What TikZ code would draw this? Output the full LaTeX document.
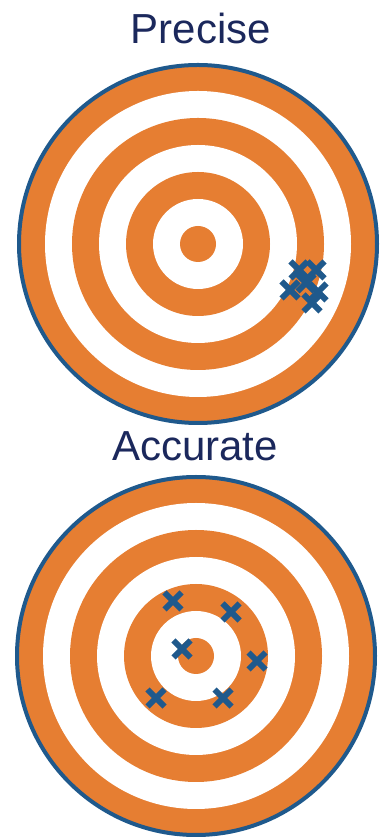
\documentclass[tikz,border=0pt]{standalone}
\usepackage{fontspec}
\setmainfont{Liberation Sans}
\usetikzlibrary{positioning}
\definecolor{tgorange}{RGB}{230,126,50}
\definecolor{tgblue}{RGB}{31,89,140}
\definecolor{tgnavy}{RGB}{27,40,92}

\begin{document}
\begin{tikzpicture}[x=1pt, y=1pt,
    hit/.style={draw=tgblue, line width=6pt},
    title/.style={text=tgnavy, font=\fontsize{42}{50}\selectfont, anchor=base, inner sep=0pt}]
    \useasboundingbox (0,0) rectangle (388,837);
    \coordinate (top) at (198,593);
    \coordinate (bot) at (196,181);

    % Bia trên
    \filldraw[fill=tgorange, draw=tgblue, line width=4pt] (top) circle (179);
    \foreach \r/\c in {153/white,126/tgorange,99/white,72/tgorange,45/white,18/tgorange} {
        \fill[\c] (top) circle (\r);
    }
    % Bia dưới
    \filldraw[fill=tgorange, draw=tgblue, line width=4pt] (bot) circle (179);
    \foreach \r/\c in {153/white,126/tgorange,99/white,72/tgorange,45/white,18/tgorange} {
        \fill[\c] (bot) circle (\r);
    }

    % Tiêu đề
    \node[title] (precise) at (201,793.7) {Precise};
    \node[title] (accurate) at (195,376.3) {Accurate};

    % Các phát bắn
    \foreach \x/\y in {299/567,316/567,290/547,306/554,318/545,312/534} {
        \draw[hit, shift={(\x,\y)}] (-8.5,-8.5) -- (8.5,8.5) (-8.5,8.5) -- (8.5,-8.5);
    }
    \foreach \x/\y in {173/236,231/225,182/188,257/176,156/139,223/139} {
        \draw[hit, shift={(\x,\y)}] (-8.5,-8.5) -- (8.5,8.5) (-8.5,8.5) -- (8.5,-8.5);
    }
\end{tikzpicture}
\end{document}
